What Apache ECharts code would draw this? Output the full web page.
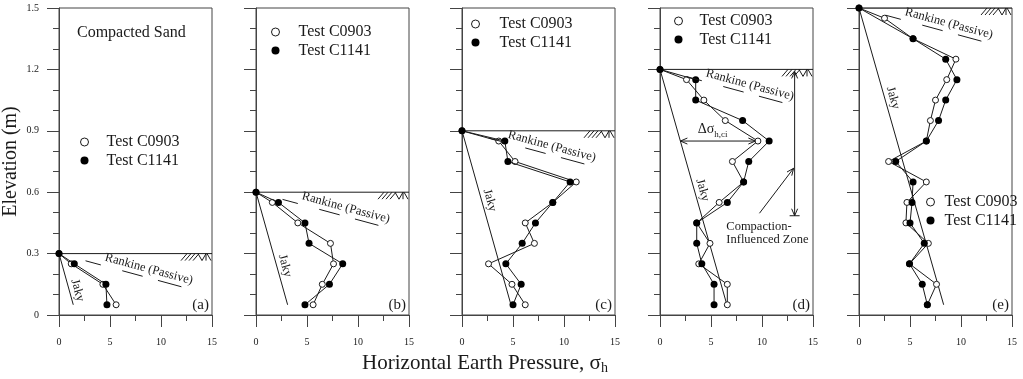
<!DOCTYPE html>
<html>
<head>
<meta charset="utf-8">
<script src="https://cdn.jsdelivr.net/npm/echarts@6/dist/echarts.min.js"></script>
<style>
  html, body { margin: 0; padding: 0; background: #fff; }
  #chart { width: 1023px; height: 379px; }
</style>
</head>
<body>
<div id="chart"></div>
<script>
// ---- data ----
const panelNames = ['(a)', '(b)', '(c)', '(d)', '(e)'];
const surfaceElev = [0.3, 0.6, 0.9, 1.2, 1.5];
const jakyBottom = [[1.4, 0.05], [3.1, 0.05], [4.8, 0.05], [6.5, 0.06], [8.3, 0.05]];
const rankineSlope = 0.0135; // m of depth per unit of sigma_h

const elevA = [0.3, 0.25, 0.15, 0.05];
const c0903A = [0, 1.2, 4.3, 5.6];
const c1141A = [0, 1.5, 4.6, 4.7];

const elevB = [0.6, 0.55, 0.45, 0.35, 0.25, 0.15, 0.05];
const c0903B = [0, 1.6, 4.1, 7.3, 7.6, 6.5, 5.6];
const c1141B = [0, 2.2, 4.8, 5.2, 8.5, 7.2, 4.8];

const elevC = [0.9, 0.85, 0.75, 0.65, 0.55, 0.45, 0.35, 0.25, 0.15, 0.05];
const c0903C = [0, 3.6, 5.2, 11.2, 8.9, 6.2, 7.1, 2.6, 4.9, 6.2];
const c1141C = [0, 4.2, 4.5, 10.6, 8.9, 7.2, 5.9, 4.3, 5.8, 5.0];

const elevD = [1.2, 1.15, 1.05, 0.95, 0.85, 0.75, 0.65, 0.55, 0.45, 0.35, 0.25, 0.15, 0.05];
const c0903D = [0, 2.6, 4.3, 6.4, 9.6, 7.1, 8.2, 5.8, 3.6, 4.9, 3.8, 6.6, 6.6];
const c1141D = [0, 3.5, 3.5, 8.1, 10.7, 8.7, 8.2, 6.6, 3.6, 3.6, 4.1, 5.3, 5.3];

const elevE = [1.5, 1.45, 1.35, 1.25, 1.15, 1.05, 0.95, 0.85, 0.75, 0.65, 0.55, 0.45, 0.35, 0.25, 0.15, 0.05];
const c0903E = [0, 2.5, 5.3, 9.5, 8.6, 7.5, 7.0, 6.6, 2.9, 6.6, 4.7, 4.6, 6.8, 4.95, 7.6, 6.7];
const c1141E = [0, null, 5.3, 8.5, 9.6, 8.5, 7.8, 6.6, 3.6, 5.3, 5.2, 5.0, 6.4, 4.95, 6.2, 6.7];

const panels = [
  { elev: elevA, open: c0903A, filled: c1141A },
  { elev: elevB, open: c0903B, filled: c1141B },
  { elev: elevC, open: c0903C, filled: c1141C },
  { elev: elevD, open: c0903D, filled: c1141D },
  { elev: elevE, open: c0903E, filled: c1141E }
];

// ---- layout ----
const FONT = '"Liberation Serif", "Times New Roman", serif';
const INK = '#1a1a1a';
const AXIS = '#444';
const gridLefts = [59, 256, 462, 660, 859];
const legendSpots = [[80, 134, 13], [271, 24, 14], [471, 16, 15], [674, 13, 12], [926, 194, 5]];
const jakyLabelElev = [0.11, 0.23, 0.55, 0.6, 1.05];

const chart = echarts.init(document.getElementById('chart'));

const pairs = (xs, ys) => xs.map((x, i) => (x == null ? null : [x, ys[i]])).filter(Boolean);

function seg(p, q) {
  return { type: 'line', shape: { x1: p[0], y1: p[1], x2: q[0], y2: q[1] }, style: { stroke: INK, lineWidth: 1 } };
}
// open V arrow head at tip, pointing away from 'from'
function head(tip, from) {
  const dx = tip[0] - from[0], dy = tip[1] - from[1];
  const l = Math.hypot(dx, dy), ux = dx / l, uy = dy / l;
  const bx = tip[0] - ux * 7, by = tip[1] - uy * 7;
  return {
    type: 'polyline',
    shape: { points: [[bx - uy * 3, by + ux * 3], tip, [bx + uy * 3, by - ux * 3]] },
    style: { stroke: INK, lineWidth: 1, fill: null }
  };
}
function txt(x, y, text, size, extra) {
  return {
    type: 'text', x: x, y: y, rotation: (extra && extra.rotation) || 0,
    style: Object.assign({ text: text, fontSize: size, fontFamily: FONT, fill: INK, align: 'center', verticalAlign: 'middle' }, extra && extra.style)
  };
}

function decor(i) {
  return function (params, api) {
    const H = surfaceElev[i];
    const c = (x, y) => api.coord([x, y]);
    const kids = [];

    // Rankine (passive) line, visible in pieces around its label
    [[2.6, 4.1], [6.2, 8.2], [9.7, 12.0]].forEach(([s0, s1]) => {
      kids.push(seg(c(s0, H - rankineSlope * s0), c(s1, H - rankineSlope * s1)));
    });
    const r0 = c(0, H), r1 = c(10, H - rankineSlope * 10);
    const ra = Math.atan2(r1[1] - r0[1], r1[0] - r0[0]);
    const rp = c(8.6, H - rankineSlope * 8.6);
    kids.push(txt(rp[0] + Math.sin(ra) * 8.5, rp[1] - Math.cos(ra) * 8.5, 'Rankine (Passive)', 12.5, { rotation: -ra }));

    // Jaky label
    const jb = jakyBottom[i];
    const j0 = c(0, H), j1 = c(jb[0], jb[1]);
    const ja = Math.atan2(j1[1] - j0[1], j1[0] - j0[0]);
    const je = jakyLabelElev[i];
    const jp = c(jb[0] * (H - je) / (H - jb[1]), je);
    kids.push(txt(jp[0] + Math.sin(ja) * 8, jp[1] - Math.cos(ja) * 8, 'Jaky', 12.5, { rotation: -ja }));

    // ground hatch at the right end of the fill surface
    const g = c(15, H);
    [-31, -27, -23, -19].forEach(dx => kids.push(seg([g[0] + dx, g[1] + 7], [g[0] + dx + 6, g[1]])));
    kids.push(seg([g[0] - 14, g[1]], [g[0] - 10, g[1] + 7]));
    kids.push(seg([g[0] - 10, g[1] + 7], [g[0] - 6, g[1]]));
    kids.push(seg([g[0] - 6, g[1]], [g[0] - 6, g[1] + 7]));
    kids.push(seg([g[0] - 5, g[1]], [g[0] - 1, g[1] + 7]));

    // panel letter
    const pl = c(15, 0.05);
    kids.push(txt(pl[0] - 3, pl[1], panelNames[i], 15, { style: { align: 'right' } }));

    if (i === 0) {
      const t = c(7.1, 1.38);
      kids.push(txt(t[0], t[1], 'Compacted Sand', 16));
    }
    if (i === 3) {
      const a0 = c(2.0, 0.85), a1 = c(9.35, 0.85);
      kids.push(seg(a0, a1), head(a0, a1), head(a1, a0));
      const dt = c(3.7, 0.9);
      kids.push(txt(dt[0], dt[1], '{a|Δσ}{b|h,ci}', 14, {
        style: { align: 'left', rich: {
          a: { fontSize: 14, fontFamily: FONT, fill: INK, lineHeight: 17, verticalAlign: 'top' },
          b: { fontSize: 9, fontFamily: FONT, fill: INK, lineHeight: 10, verticalAlign: 'bottom' }
        } }
      }));
      const v0 = c(13.2, 1.19), v1 = c(13.2, 0.485);
      kids.push(seg(v0, v1), head(v0, v1), head(v1, v0));
      kids.push(seg([v1[0] - 5, v1[1]], [v1[0] + 5, v1[1]]));
      const p0 = c(9.75, 0.497), p1 = c(13.1, 0.717);
      kids.push(seg(p0, p1), head(p1, p0));
      const t1 = c(6.5, 0.431), t2 = c(6.5, 0.366);
      kids.push(txt(t1[0], t1[1], 'Compaction-', 12.5, { style: { align: 'left' } }));
      kids.push(txt(t2[0], t2[1], 'Influenced Zone', 12.5, { style: { align: 'left' } }));
    }
    return { type: 'group', children: kids };
  };
}

const grid = gridLefts.map(l => ({ left: l, top: 8, width: 153, height: 307, show: true, borderColor: AXIS, borderWidth: 1 }));

const xAxis = gridLefts.map((l, i) => ({
  type: 'value', gridIndex: i, min: 0, max: 15, interval: 5,
  axisLine: { lineStyle: { color: AXIS } },
  axisTick: { length: 12, lineStyle: { color: AXIS } },
  minorTick: { show: true, splitNumber: 2, length: 6, lineStyle: { color: AXIS } },
  splitLine: { show: false },
  axisLabel: { margin: 22, fontSize: 10, fontFamily: FONT, color: INK }
}));

const yAxis = gridLefts.map((l, i) => ({
  type: 'value', gridIndex: i, min: 0, max: 1.5, interval: 0.3,
  name: i === 0 ? 'Elevation (m)' : '',
  nameLocation: 'middle', nameGap: 38,
  nameTextStyle: { fontSize: 20, fontFamily: FONT, color: INK },
  axisLine: { show: true, lineStyle: { color: AXIS } },
  axisTick: { length: 12, lineStyle: { color: AXIS } },
  minorTick: { show: true, splitNumber: 3, length: 6, lineStyle: { color: AXIS } },
  splitLine: { show: false },
  axisLabel: {
    show: i === 0, margin: 20, fontSize: 10, fontFamily: FONT, color: INK,
    formatter: v => (v === 0 ? '0' : v.toFixed(1))
  }
}));

const series = [];
panels.forEach((p, i) => {
  const H = surfaceElev[i];
  const ax = { xAxisIndex: i, yAxisIndex: i, silent: true, animation: false };
  series.push(Object.assign({
    type: 'line', name: 'surface', data: [[0, H], [15, H]], symbol: 'none',
    lineStyle: { color: INK, width: 1 }, z: 2
  }, ax));
  series.push(Object.assign({
    type: 'line', name: 'Jaky', data: [[0, H], jakyBottom[i]], symbol: 'none',
    lineStyle: { color: INK, width: 1 }, z: 2
  }, ax));
  series.push(Object.assign({
    type: 'line', name: 'Test C0903', data: pairs(p.open, p.elev),
    symbol: 'circle', symbolSize: 6,
    itemStyle: { color: '#fff', borderColor: INK, borderWidth: 1 },
    lineStyle: { color: INK, width: 1 }, z: 3
  }, ax));
  series.push(Object.assign({
    type: 'line', name: 'Test C1141', data: pairs(p.filled, p.elev),
    symbol: 'circle', symbolSize: 7,
    itemStyle: { color: '#000', borderColor: '#000', borderWidth: 0 },
    lineStyle: { color: INK, width: 1 }, z: 4
  }, ax));
  series.push(Object.assign({
    type: 'custom', name: 'decor', data: [[0, H]], renderItem: decor(i), z: 5
  }, ax));
});

const legend = legendSpots.map(([l, t, pad]) => ({
  left: l, top: t, orient: 'vertical', padding: 0, itemGap: 2.4,
  itemWidth: 8, itemHeight: 8, icon: 'circle', selectedMode: false,
  textStyle: { fontSize: 16, fontFamily: FONT, color: INK, lineHeight: 16, padding: [0, 0, 0, pad] },
  data: [
    { name: 'Test C0903', itemStyle: { color: '#fff', borderColor: INK, borderWidth: 1 } },
    { name: 'Test C1141', itemStyle: { color: '#000', borderWidth: 0 } }
  ]
}));

chart.setOption({
  animation: false,
  grid: grid,
  xAxis: xAxis,
  yAxis: yAxis,
  legend: legend,
  series: series,
  graphic: [{
    type: 'text', x: 485, y: 364,
    style: {
      text: '{a|Horizontal Earth Pressure, σ}{b|h}',
      align: 'center', verticalAlign: 'middle',
      rich: {
        a: { fontSize: 21, fontFamily: FONT, fill: INK, lineHeight: 23, verticalAlign: 'top' },
        b: { fontSize: 14, fontFamily: FONT, fill: INK, lineHeight: 14, verticalAlign: 'bottom' }
      }
    }
  }]
});
</script>
</body>
</html>
